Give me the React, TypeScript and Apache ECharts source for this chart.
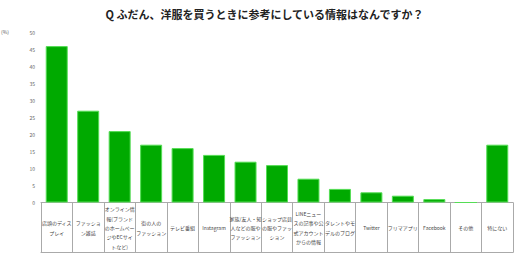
import React, { useEffect, useRef } from "react";
import * as echarts from "echarts";

const titleText = "Q ふだん、洋服を買うときに参考にしている情報はなんですか？";
const unitLabel = "(%)";
const categories = [
  "店頭のディス\nプレイ",
  "ファッショ\nン雑誌",
  "オンライン情\n報(ブランド\nのホームペー\nジやECサイ\nトなど)",
  "街の人の\nファッション",
  "テレビ番組",
  "Instagram",
  "家族/友人・知\n人などの服や\nファッション",
  "ショップ店員\nの服やファッ\nション",
  "LINEニュー\nスの記事や公\n式アカウント\nからの情報",
  "タレントやモ\nデルのブログ",
  "Twitter",
  "フリマアプリ",
  "Facebook",
  "その他",
  "特にない",
];
const values = [46, 27, 21, 17, 16, 14, 12, 11, 7, 4, 3, 2, 1, 0, 17];
const yMin = 0;
const yMax = 50;
const yInterval = 5;

const FONT = '"Noto Sans CJK JP", "Noto Sans", sans-serif';

export default function App() {
  const ref = useRef<HTMLDivElement>(null);
  useEffect(() => {
    if (!ref.current) return;
    const chart = echarts.init(ref.current, undefined, { renderer: "svg" });
    chart.setOption({
      animation: false,
      backgroundColor: "#ffffff",
      title: {
        text: titleText,
        left: "center",
        top: 3,
        textStyle: { fontSize: 11, fontWeight: "bold", color: "#222", fontFamily: FONT },
      },
      graphic: [
        {
          type: "text",
          left: 1,
          top: 29,
          style: { text: unitLabel, fontSize: 5, fill: "#555", fontFamily: FONT },
        },
      ],
      grid: { left: 41, right: 16, top: 32.5, bottom: 60.5, containLabel: false },
      xAxis: [
        {
          type: "category",
          data: categories,
          boundaryGap: true,
          axisLine: { show: true, lineStyle: { color: "#aaa", width: 1 } },
          axisTick: { show: true, length: 50, interval: 0, lineStyle: { color: "#aaa", width: 1 } },
          axisLabel: {
            interval: 0,
            margin: 25,
            verticalAlign: "middle",
            fontSize: 5,
            lineHeight: 9.4,
            color: "#444",
            fontFamily: FONT,
          },
        },
        {
          type: "category",
          data: categories,
          position: "bottom",
          offset: 50,
          axisLine: { show: true, lineStyle: { color: "#aaa", width: 1 } },
          axisTick: { show: false },
          axisLabel: { show: false },
        },
      ],
      yAxis: {
        type: "value",
        min: yMin,
        max: yMax,
        interval: yInterval,
        axisLine: { show: false },
        axisTick: { show: false },
        splitLine: { show: false },
        axisLabel: { fontSize: 5, color: "#666", margin: 6, fontFamily: FONT },
      },
      series: [
        {
          type: "bar",
          xAxisIndex: 0,
          data: values,
          barWidth: 22,
          itemStyle: { color: "#00aa00", borderColor: "#55dd55", borderWidth: 1 },
        },
      ],
    });
    return () => chart.dispose();
  }, []);
  return <div ref={ref} style={{ width: 529, height: 263, position: "absolute", left: 0, top: 0 }} />;
}
